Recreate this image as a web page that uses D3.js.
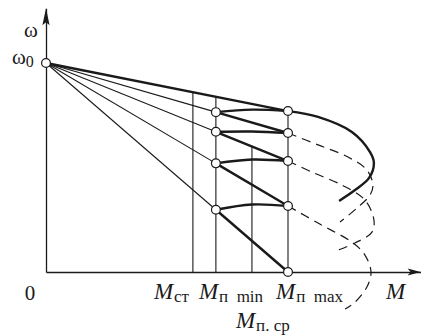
<!DOCTYPE html>
<html><head><meta charset="utf-8">
<script src="https://cdn.jsdelivr.net/npm/d3@7"></script>
<style>
html,body{margin:0;padding:0;background:#fff;}
svg{display:block;}
text{font-family:"Liberation Serif","DejaVu Serif",serif;fill:#1a1a1a;}
</style></head><body>
<svg id="chart" width="421" height="336"></svg>
<script>
// Speed (ω/ω0) on each characteristic at the peak starting torque:
// natural characteristic first, then the rheostatic steps
const speedAtPeak = [0.770, 0.665, 0.531, 0.316, 0];

// Torque levels marked on the M axis (relative to M п max)
const torqueNames  = ["ст", "п\u2002min", "п. ср", "п\u2002max"];
const torqueValues = [0.607, 0.702, 0.851, 1.0];
// Characteristic at which each torque guide stops
const guideTop = [0, 0, 2, 0];

// Curved parts of the characteristics past the peak starting torque, [M, ω]
const naturalTail = [[1.0,0.770],[1.124,0.742],[1.264,0.670],[1.339,0.574],[1.355,0.522],[1.335,0.450],[1.277,0.392],[1.211,0.340]];
const stepTail1 = [[1.0,0.665],[1.124,0.608],[1.248,0.550],[1.326,0.488],[1.351,0.416],[1.339,0.368],[1.285,0.306],[1.215,0.239]];
const stepTail2 = [[1.0,0.531],[1.099,0.478],[1.223,0.416],[1.318,0.344],[1.355,0.249],[1.347,0.191],[1.277,0.139],[1.207,0.105]];
const stepTail3 = [[1.0,0.316],[1.124,0.234],[1.269,0.139],[1.318,0.081],[1.343,0.0],[1.326,-0.072],[1.277,-0.144],[1.236,-0.177]];
const stepTails = [stepTail1, stepTail2, stepTail3];

const omega0 = 1;
const xMax = 1.548, yMax = 1.262;

const svg = d3.select("#chart");
const x = d3.scaleLinear().domain([0, 1]).range([46, 288]);
const y = d3.scaleLinear().domain([0, 1]).range([272, 63]);

const ink = "#1a1a1a";
const Mmin = torqueValues[1], Mmax = torqueValues[3];
const speedOn = (k, M) => omega0 - (omega0 - speedAtPeak[k]) * M / Mmax;
const line = d3.line().x(d => x(d[0])).y(d => y(d[1]));
const curve = d3.line().x(d => x(d[0])).y(d => y(d[1])).curve(d3.curveCatmullRom.alpha(0.5));
const arc = d3.line().x(d => x(d[0])).y(d => y(d[1])).curve(d3.curveNatural);

// axes (no ticks) with arrowheads
const xAxisScale = x.copy().domain([0, xMax]).range([x(0), x(xMax)]);
const yAxisScale = y.copy().domain([0, yMax]).range([y(0), y(yMax)]);
svg.append("g").attr("transform", `translate(0,${y(0)})`)
  .call(d3.axisBottom(xAxisScale).tickValues([]).tickSizeOuter(0))
  .select(".domain").attr("stroke", ink).attr("stroke-width", 1.3);
svg.append("g").attr("transform", `translate(${x(0)},0)`)
  .call(d3.axisLeft(yAxisScale).tickValues([]).tickSizeOuter(0))
  .select(".domain").attr("stroke", ink).attr("stroke-width", 1.3);
const xt = x(xMax), yt = y(yMax);
svg.append("path").attr("fill", ink)
  .attr("d", `M${xt},${y(0)} L${xt-13},${y(0)-3.6} L${xt-10},${y(0)} L${xt-13},${y(0)+3.6} Z`);
svg.append("path").attr("fill", ink)
  .attr("d", `M${x(0)},${yt} L${x(0)-3.6},${yt+17} L${x(0)},${yt+14} L${x(0)+3.6},${yt+17} Z`);

// torque guide lines
svg.append("g").selectAll("line").data(torqueValues).join("line")
  .attr("x1", d => x(d)).attr("x2", d => x(d))
  .attr("y1", y(0)).attr("y2", (d, i) => y(speedOn(guideTop[i], d)))
  .attr("stroke", ink).attr("stroke-width", 1.1);

// thin rays from ω0 to the switching points
svg.append("g").selectAll("path").data(d3.range(1, speedAtPeak.length)).join("path")
  .attr("d", k => line([[0, omega0], [Mmin, speedOn(k, Mmin)]]))
  .attr("fill", "none").attr("stroke", ink).attr("stroke-width", 1.1);

// dashed continuations of the rheostatic characteristics
svg.append("g").selectAll("path").data(stepTails).join("path")
  .attr("d", curve).attr("fill", "none").attr("stroke", ink)
  .attr("stroke-width", 1.2).attr("stroke-dasharray", "9,6");

// starting trajectory (thick)
const thick = svg.append("g").attr("fill", "none").attr("stroke", ink)
  .attr("stroke-width", 2.4).attr("stroke-linecap", "round");
thick.append("path").attr("d", line([[0, omega0], [Mmax, speedAtPeak[0]]]));
thick.append("path").attr("d", curve(naturalTail)).attr("stroke-linecap", "butt");
d3.range(1, speedAtPeak.length).forEach(k => {
  thick.append("path").attr("d", line([[Mmin, speedOn(k, Mmin)], [Mmax, speedAtPeak[k]]]));
  thick.append("path").attr("d", arc([
    [Mmin, speedOn(k, Mmin)],
    [(Mmin + Mmax) / 2, speedAtPeak[k - 1] + 0.007],
    [Mmax, speedAtPeak[k - 1]]
  ]));
});

// switching points
const pts = [[0, omega0]]
  .concat(d3.range(1, speedAtPeak.length).map(k => [Mmin, speedOn(k, Mmin)]))
  .concat(speedAtPeak.map(w => [Mmax, w]));
svg.append("g").selectAll("circle").data(pts).join("circle")
  .attr("cx", d => x(d[0])).attr("cy", d => y(d[1])).attr("r", 4.4)
  .attr("fill", "#fff").attr("stroke", ink).attr("stroke-width", 1.2);

// axis labels
svg.append("text").attr("x", 31).attr("y", 37).attr("text-anchor", "middle")
  .style("font-size", "21px").text("ω");
const w0 = svg.append("text").attr("x", 12).attr("y", 64).style("font-size", "21px");
w0.append("tspan").text("ω");
w0.append("tspan").attr("dy", 3).style("font-size", "16px").text("0");
svg.append("text").attr("x", 30).attr("y", 300).attr("text-anchor", "middle")
  .style("font-size", "21px").text("0");
svg.append("text").attr("x", 386).attr("y", 299)
  .style("font-size", "23px").style("font-style", "italic").text("M");

// torque level labels
const labelDx = [-39, -17, -16, -12];
const labelY  = [299, 299, 328, 299];
torqueNames.forEach((name, i) => {
  const t = svg.append("text").attr("x", x(torqueValues[i]) + labelDx[i]).attr("y", labelY[i]);
  t.append("tspan").style("font-size", "23px").style("font-style", "italic").text("M");
  t.append("tspan").attr("dy", 3).attr("dx", 1).style("font-size", "17px").text(name);
});
</script>
</body></html>
